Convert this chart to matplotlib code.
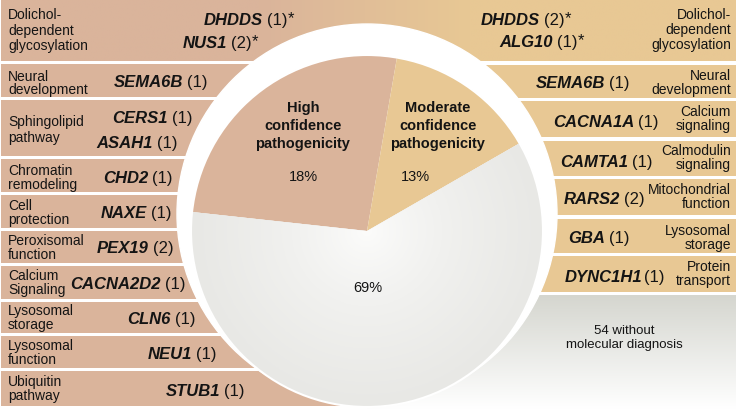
import numpy as np
import matplotlib.pyplot as plt
from matplotlib.patches import Circle
from matplotlib.colors import LinearSegmentedColormap, to_rgb

plt.rcParams['font.family'] = ['Liberation Sans', 'DejaVu Sans']

W, H = 738, 410
BROWN = '#dab49b'
TAN = '#e8c894'
GREY = '#e9e9e6'
INK = '#141414'

# ---- data ----
pie_names = ['High\nconfidence\npathogenicity', 'Moderate\nconfidence\npathogenicity', '']
pie_pct = ['18%', '13%', '69%']
pie_angle = [93.6, 50.3, 216.1]   # wedge sizes (deg) as drawn in the figure

left_cats = ['Dolichol-\ndependent\nglycosylation', 'Neural\ndevelopment', 'Sphingolipid\npathway',
             'Chromatin\nremodeling', 'Cell\nprotection', 'Peroxisomal\nfunction', 'Calcium\nSignaling',
             'Lysosomal\nstorage', 'Lysosomal\nfunction', 'Ubiquitin\npathway']
left_genes = [['DHDDS', 'NUS1'], ['SEMA6B'], ['CERS1', 'ASAH1'], ['CHD2'], ['NAXE'], ['PEX19'],
              ['CACNA2D2'], ['CLN6'], ['NEU1'], ['STUB1']]
left_counts = [[1, 2], [1], [1, 1], [1], [1], [2], [1], [1], [1], [1]]
left_star = [[True, True], [False], [False, False], [False], [False], [False], [False], [False], [False], [False]]

right_cats = ['Dolichol-\ndependent\nglycosylation', 'Neural\ndevelopment', 'Calcium\nsignaling',
              'Calmodulin\nsignaling', 'Mitochondrial\nfunction', 'Lysosomal\nstorage', 'Protein\ntransport']
right_genes = [['DHDDS', 'ALG10'], ['SEMA6B'], ['CACNA1A'], ['CAMTA1'], ['RARS2'], ['GBA'], ['DYNC1H1']]
right_counts = [[2, 1], [1], [1], [1], [2], [1], [1]]
right_star = [[True, True], [False], [False], [False], [False], [False], [False]]

no_dx_text = '54 without\nmolecular diagnosis'

# ---- layout (pixels, y down) ----
left_rows = [(0, 62), (65, 98), (101, 157), (160, 193), (196, 229), (232, 264),
             (267, 300), (303, 334), (337, 369), (372, 407)]
right_rows = [(0, 62), (66, 99), (102, 138), (142, 177), (180, 216), (220, 254), (257, 293)]
left_cat_y = [30.5, 83.5, 130, 178, 213, 248, 283, 318, 353, 389]
left_cat_ls = [1.15, 0.95, 1.1, 0.95, 0.95, 0.95, 0.95, 0.95, 0.95, 0.95]
right_cat_y = [30, 83, 119, 158, 197, 238, 274]
right_cat_ls = [1.1, 0.95, 0.95, 0.95, 0.95, 0.95, 0.95]
left_gene_pos = [[(263, 25), (227, 48)], [(183, 87)], [(168, 123), (153, 148)], [(148, 183)],
                 [(147, 218)], [(149, 253)], [(161, 289)], [(171, 324)], [(192, 359)], [(220, 396)]]
right_gene_pos = [[(540, 25), (553, 47)], [(605, 88)], [(634, 127)], [(628, 167)], [(620, 204)],
                  [(605, 243)], [(642, 282)]]
cx, cy, r = 367, 232, 176

fig = plt.figure(figsize=(W / 100, H / 100), dpi=100)
ax = fig.add_axes([0, 0, 1, 1])

# rows
ax.barh([(a + b) / 2 for a, b in left_rows], [cx - 1] * len(left_rows), left=1,
        height=[b - a for a, b in left_rows], color=BROWN, zorder=1)
ax.barh([(a + b) / 2 for a, b in right_rows], [736 - cx] * len(right_rows), left=cx,
        height=[b - a for a, b in right_rows], color=TAN, zorder=1)

# top band: brown -> tan
xs = np.linspace(1, 736, 400)
t = np.clip((xs - 260) / 210, 0, 1)[None, :, None]
band = (1 - t) * np.array(to_rgb(BROWN)) + t * np.array(to_rgb(TAN))
ax.imshow(band, extent=(1, 736, 62, 0), aspect='auto', zorder=1.5)

# bottom-right grey area
ys = np.linspace(0, 1, 200)[:, None, None]
g = (1 - ys) * np.array(to_rgb('#d5d6cf')) + ys * np.array(to_rgb('#ffffff'))
ax.imshow(g, extent=(cx, 736, 410, 296), aspect='auto', zorder=1.5)

# white ring behind the pie
ax.add_patch(Circle((cx, 215), 190, color='white', zorder=2))

wedges, _ = ax.pie(pie_angle, startangle=-173.8, counterclock=True, center=(cx, cy), radius=r,
                   colors=[BROWN, TAN, GREY], wedgeprops={'linewidth': 0})
for w in wedges:
    w.set_zorder(3)

# soft radial highlight on the grey wedge
gx, gy = np.meshgrid(np.linspace(-1, 1, 300), np.linspace(-1, 1, 300))
rr = np.clip(np.hypot(gx, gy), 0, 1)
cmap = LinearSegmentedColormap.from_list('glow', ['#fcfcfb', '#f1f1ef', '#e8e8e5'])
im = ax.imshow(rr ** 0.8, cmap=cmap, extent=(cx - r, cx + r, cy + r, cy - r), zorder=3.5)
im.set_clip_path(wedges[2])
ax.add_patch(Circle((cx, cy), r, fill=False, ec='white', lw=1.5, zorder=4))

# pie labels
ax.text(303, 126, pie_names[0], ha='center', va='center', fontsize=10.5, fontweight='bold',
        linespacing=1.4, color=INK, zorder=5)
ax.text(438, 126, pie_names[1], ha='center', va='center', fontsize=10.5, fontweight='bold',
        linespacing=1.4, color=INK, zorder=5)
ax.text(303, 177, pie_pct[0], ha='center', va='center', fontsize=10.5, color=INK, zorder=5)
ax.text(415, 177, pie_pct[1], ha='center', va='center', fontsize=10.5, color=INK, zorder=5)
ax.text(368, 288, pie_pct[2], ha='center', va='center', fontsize=10.5, color=INK, zorder=5)
ax.text(624, 338, no_dx_text, ha='center', va='center', fontsize=9.5, linespacing=1.2,
        color=INK, zorder=5)


def gene_label(x, y, name, n, star, gap=4):
    ax.text(x, y, name, ha='right', va='baseline', fontsize=12, fontweight='bold',
            fontstyle='italic', color=INK, zorder=5)
    tc = ax.text(x + gap, y, f'({n})', ha='left', va='baseline', fontsize=12, color=INK, zorder=5)
    if star:
        ax.annotate('*', xy=(1, 0.62), xycoords=tc, ha='left', va='center', fontsize=12,
                    color=INK, zorder=5)


for i, cat in enumerate(left_cats):
    ax.text(8, left_cat_y[i], cat, ha='left', va='center', fontsize=10, linespacing=left_cat_ls[i],
            color=INK, zorder=5)
    for j, gname in enumerate(left_genes[i]):
        x, y = left_gene_pos[i][j]
        gene_label(x, y, gname, left_counts[i][j], left_star[i][j])

for i, cat in enumerate(right_cats):
    ax.text(731, right_cat_y[i], cat, ha='right', va='center', fontsize=10,
            linespacing=right_cat_ls[i], color=INK, zorder=5)
    for j, gname in enumerate(right_genes[i]):
        x, y = right_gene_pos[i][j]
        gene_label(x, y, gname, right_counts[i][j], right_star[i][j],
                   gap=2 if gname == 'DYNC1H1' else 4)

ax.set_xlim(0, W)
ax.set_ylim(H, 0)
ax.set_aspect('equal')
ax.axis('off')

fig.savefig('out.png', dpi=100, facecolor='white')
